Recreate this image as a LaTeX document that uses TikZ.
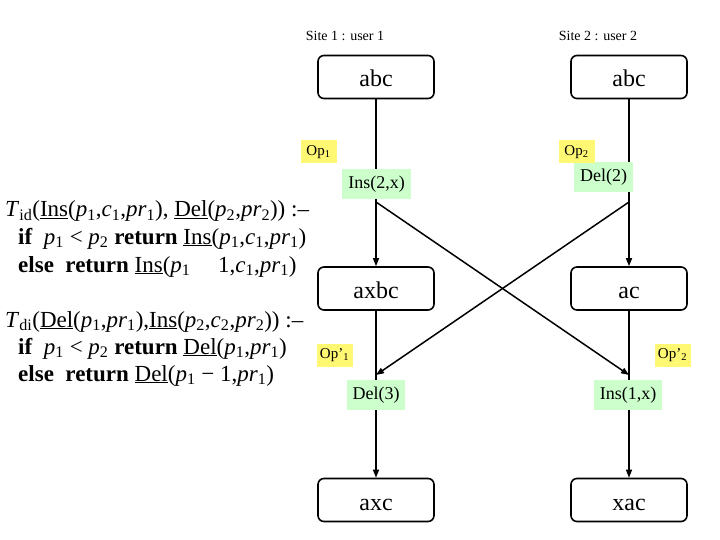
\documentclass[tikz,border=0pt]{standalone}
\usepackage{fontspec}
\setmainfont{Liberation Serif}
\usetikzlibrary{arrows.meta}
\newcommand\iv[2]{\textit{#1}\textsubscript{#2}}
\newcommand\ul[1]{\underline{#1}}
\begin{document}
\begin{tikzpicture}[x=1pt,y=-1pt,
  state/.style={draw, line width=1.6pt, rounded corners=6pt, minimum width=116pt, minimum height=43pt, inner sep=0pt, text height=20pt, text depth=0pt, font=\fontsize{24}{28}\selectfont},
  oplab/.style={fill=green!20, inner xsep=6pt, inner ysep=0pt, minimum height=30pt, font=\fontsize{18}{20}\selectfont},
  oname/.style={fill=yellow!55, inner sep=0pt, minimum width=36pt, minimum height=23pt, font=\fontsize{15}{17}\selectfont},
  site/.style={font=\fontsize{14}{16}\selectfont, inner sep=0pt},
  formula/.style={anchor=base west, inner sep=0pt, font=\fontsize{23}{26}\selectfont},
  conn/.style={line width=1.5pt, -{Triangle[length=8pt,width=6pt]}}]
\useasboundingbox (0,0) rectangle (720,540);

% site titles
\node[site] (site1) at (345,36) {Site 1 : user 1};
\node[site] (site2) at (598,36) {Site 2 : user 2};

% states
\node[state] (a1) at (376,77) {abc};
\node[state] (a2) at (629,77) {abc};
\node[state] (b1) at (376,288.5) {axbc};
\node[state] (b2) at (629,288.5) {ac};
\node[state] (c1) at (376,500) {axc};
\node[state] (c2) at (629,500) {xac};

% split / end points
\coordinate (s1) at (376,202);
\coordinate (s2) at (629,202);
\coordinate (e1) at (376,375);
\coordinate (e2) at (629,375);

% connectors
\draw[conn] (a1) -- (b1);
\draw[conn] (a2) -- (b2);
\draw[conn] (b1) -- (c1);
\draw[conn] (b2) -- (c2);
\draw[conn] (s1) -- (e2);
\draw[conn] (s2) -- (e1);

% operation labels
\node[oplab] (ins2x) at (376.5,184) {Ins(2,x)};
\node[oplab] (del2) at (603.5,177) {Del(2)};
\node[oplab] (del3) at (376,395) {Del(3)};
\node[oplab] (ins1x) at (628,395) {Ins(1,x)};

\node[oname] (op1) at (318.5,152) {Op\textsubscript{1}};
\node[oname] (op2) at (576.5,152) {Op\textsubscript{2}};
\node[oname] (op1p) at (334.5,355) {Op’\textsubscript{1}};
\node[oname] (op2p) at (672.5,355) {Op’\textsubscript{2}};

% formulas
\node[formula] (f1) at (5,217) {\iv{T}{id}(\ul{Ins}(\iv{p}{1},\iv{c}{1},\iv{pr}{1}), \ul{Del}(\iv{p}{2},\iv{pr}{2})) :–};
\node[formula] (f2) at (18,244) {\textbf{if}\ \ \iv{p}{1} < \iv{p}{2} \textbf{return} \ul{Ins}(\iv{p}{1},\iv{c}{1},\iv{pr}{1})};
\node[formula] (f3) at (18,272) {\textbf{else}\ \ \textbf{return} \ul{Ins}(\iv{p}{1}\hspace{1.2em}1,\iv{c}{1},\iv{pr}{1})};
\node[formula] (f4) at (5,327) {\iv{T}{di}(\ul{Del}(\iv{p}{1},\iv{pr}{1}),\ul{Ins}(\iv{p}{2},\iv{c}{2},\iv{pr}{2})) :–};
\node[formula] (f5) at (18,354) {\textbf{if}\ \ \iv{p}{1} < \iv{p}{2} \textbf{return} \ul{Del}(\iv{p}{1},\iv{pr}{1})};
\node[formula] (f6) at (18,381) {\textbf{else}\ \ \textbf{return} \ul{Del}(\iv{p}{1} − 1,\iv{pr}{1})};
\end{tikzpicture}
\end{document}
